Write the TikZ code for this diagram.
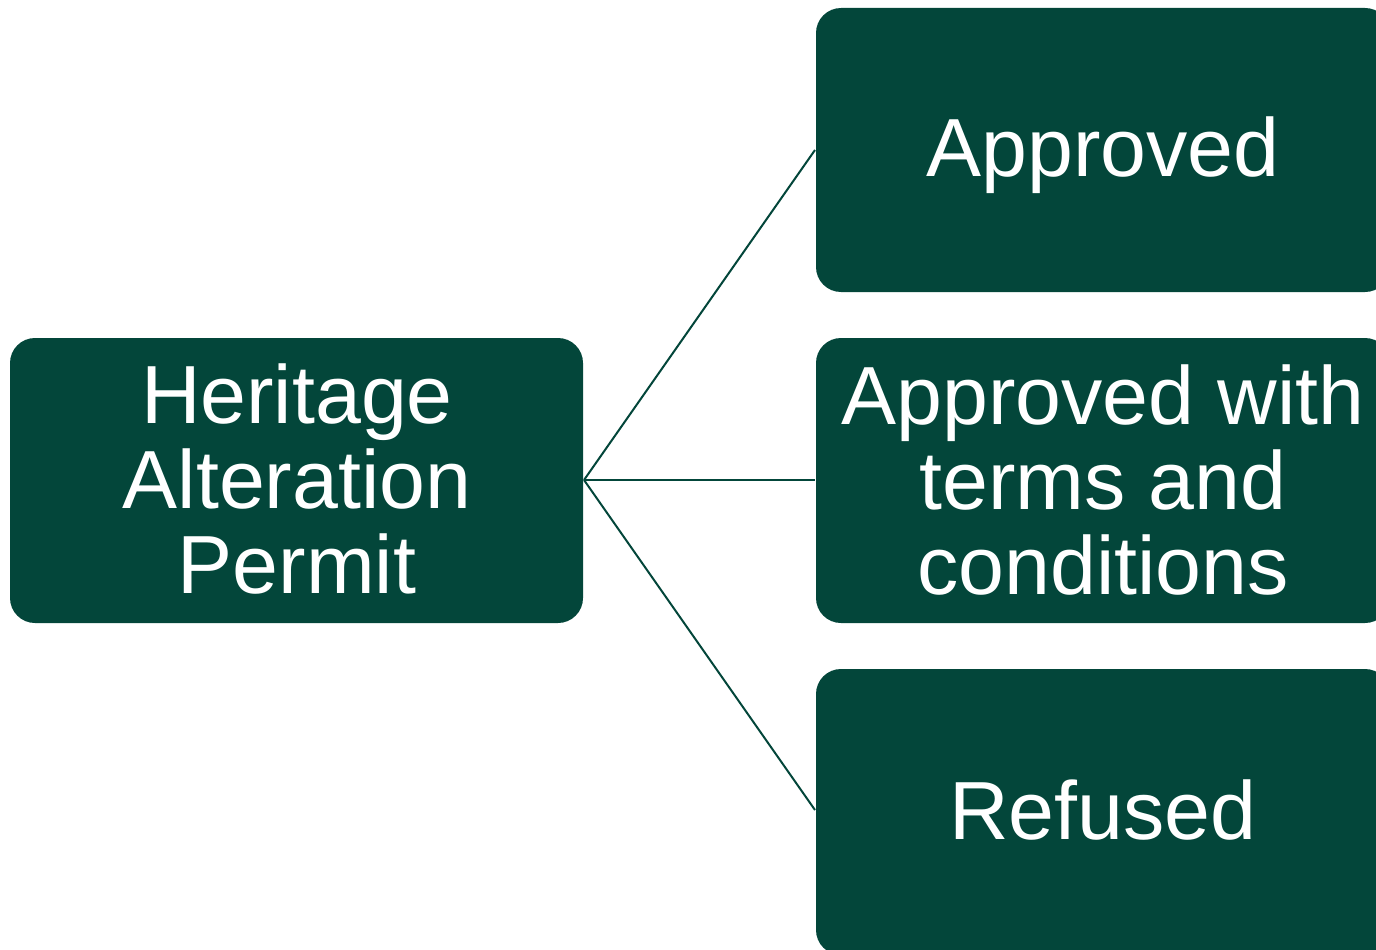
\documentclass[tikz,border=0pt]{standalone}
\usepackage{fontspec}
\setmainfont{Liberation Sans}
\definecolor{hgreen}{HTML}{03463A}
\begin{document}
\begin{tikzpicture}[x=1pt,y=-1pt,
  box/.style={fill=hgreen, rounded corners=25pt, inner sep=0pt, outer sep=0pt},
  lbl/.style={text=white, font=\fontsize{82.5}{85}\selectfont, align=center},
  conn/.style={draw=hgreen, line width=2pt}]
\useasboundingbox (0,0) rectangle (1376,950);
\clip (0,0) rectangle (1376,950);
\fill[box] (10,338) rectangle (583,623);
\fill[box] (816,8) rectangle (1390,292);
\fill[box] (816,338) rectangle (1390,623);
\fill[box] (816,669) rectangle (1390,955);
\node[lbl] (hap) at (297,479) {Heritage\\Alteration\\Permit};
\node[lbl] (app) at (1103,155) {Approved};
\node[lbl] (awt) at (1103,480) {Approved with\\terms and\\conditions};
\node[lbl] (ref) at (1103,810) {Refused};
\coordinate (src) at (584,480);
\coordinate (t1) at (815,150);
\coordinate (t2) at (815,480);
\coordinate (t3) at (815,810);
\draw[conn] (src) -- (t1);
\draw[conn] (src) -- (t2);
\draw[conn] (src) -- (t3);
\end{tikzpicture}
\end{document}
